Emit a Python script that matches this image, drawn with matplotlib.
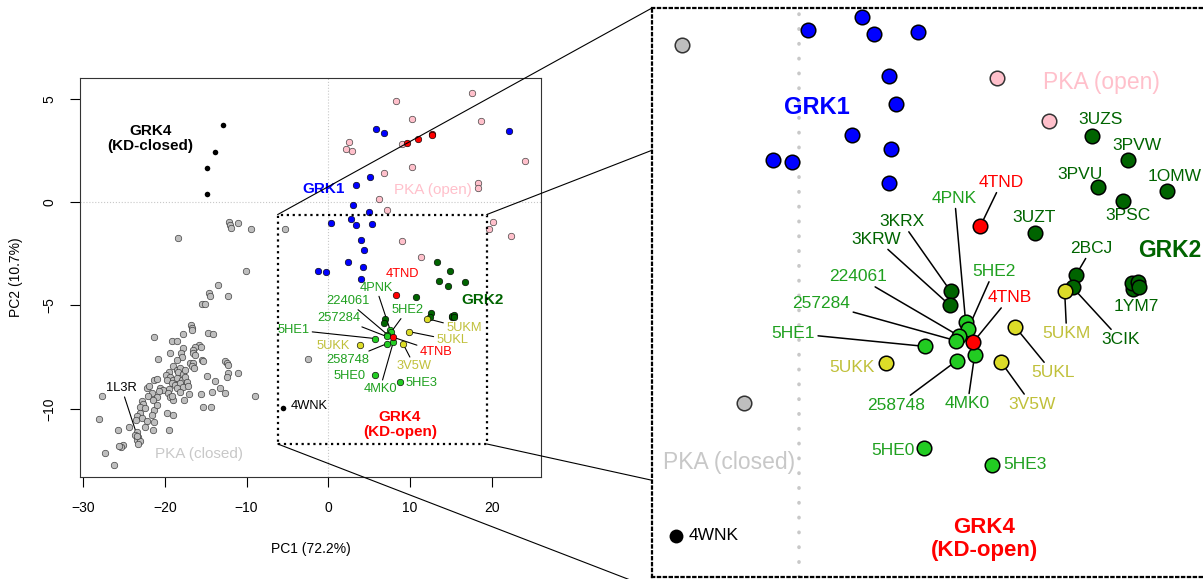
#!/usr/bin/env python3
"""PCA of kinase-domain structures: overview panel plus a zoomed inset of the GRK region."""

import matplotlib

matplotlib.use("Agg")
import matplotlib.pyplot as plt
from matplotlib.patches import Rectangle, ConnectionPatch

plt.rcParams["font.family"] = ["Liberation Sans", "DejaVu Sans"]

# ---- PCA scores (PC1, PC2) ----
pka_closed_x = [
    -18.36, -12.2, -12.04, -11.87, -11.06, -9.5, -5.30, -10.12, -13.55, -14.57,
    -14.49, -12.24, -15.5, -15.1, -16.85, -16.73, -16.65, -14.73, -14.08, -17.75,
    -21.38, -19.14, -18.57, -15.79, -15.59, -16.28, -16.53, -17.83, -19.4, -16.6,
    -16.36, -18.04, -17.91, -18.57, -20.81, -15.51, -15.38, -16.98, -16.53, -16.73,
    -16.4, -12.65, -12.45, -12.28, -18.98, -18.57, -18.16, -18.36, -17.83, -17.55,
    -19.55, -19.87, -19.38, -18.98, -18.57, -17.96, -19.79, -19.18, -18.77, -18.16,
    -17.55, -17.34, -18.57, -17.83, -17.14, -19.47, -12.24, -12.36, -11.06, -14.9,
    -13.87, -21.34, -21.02, -22.16, -21.96, -20.61, -20.28, -20.69, -21.63, -22.04,
    -21.02, -21.51, -19.67, -19.4, -18.98, -19.18, -18.16, -17.63, -17.1, -15.55,
    -14.2, -13.26, -12.65, -8.93, -27.71, -22.85, -22.65, -23.06, -22.45, -21.34,
    -21.0, -21.63, -15.3, -14.3, -19.8, -19.06, -23.1, -23.47, -22.85, -23.55,
    -22.24, -22.45, -21.3, -21.4, -28.04, -24.4, -23.47, -23.67, -23.27, -23.47,
    -23.06, -23.27, -25.79, -19.47, -25.1, -25.42, -25.59, -27.3, -26.2, -2.49,
]
pka_closed_y = [
    -1.74, -0.97, -1.10, -1.26, -0.99, -1.31, -1.29, -3.31, -4.00, -4.41,
    -4.53, -4.53, -4.91, -4.91, -5.94, -6.10, -6.18, -6.31, -6.37, -6.40,
    -6.53, -6.74, -6.74, -6.90, -6.99, -7.03, -7.15, -7.07, -7.31, -7.31,
    -7.39, -7.31, -7.50, -7.63, -7.60, -7.63, -7.71, -7.76, -7.79, -7.92,
    -8.03, -7.71, -7.79, -7.90, -7.95, -8.11, -8.03, -8.20, -8.31, -8.11,
    -8.20, -8.36, -8.44, -8.60, -8.52, -8.60, -8.60, -8.76, -8.84, -8.76,
    -8.44, -8.68, -9.00, -8.95, -8.92, -9.05, -8.27, -8.44, -8.26, -8.42,
    -8.63, -8.60, -8.57, -8.97, -8.89, -9.00, -9.08, -9.16, -9.24, -9.40,
    -9.44, -9.57, -9.24, -9.44, -9.57, -9.40, -9.21, -9.57, -9.28, -9.28,
    -9.18, -9.00, -9.24, -9.36, -9.40, -9.60, -9.76, -9.89, -9.97, -10.05,
    -9.82, -10.29, -9.92, -9.92, -10.21, -10.29, -10.21, -10.37, -10.45, -10.53,
    -10.61, -10.86, -10.66, -11.02, -10.48, -10.86, -11.10, -11.26, -11.34, -11.50,
    -11.58, -11.69, -11.03, -11.02, -11.74, -11.86, -11.82, -12.13, -12.71, -7.59,
]
pka_1l3r = (-23.4, -11.3)

pka_open_x = [17.6, 8.3, 10.3, 18.71, 2.5, 2.18, 2.91, 9.0, 24.05, 10.3, 6.79,
              18.34, 18.34, 6.22, 7.24, 20.22, 19.65, 22.34, 9.01, 11.35]
pka_open_y = [5.27, 4.92, 4.03, 3.93, 2.92, 2.58, 2.48, 2.80, 2.01, 1.69, 1.43,
              0.92, 0.71, 0.17, -0.37, -0.94, -1.31, -1.63, -1.88, -2.63]

grk1_x = [5.85, 6.87, 22.14, 5.08, 3.4, 3.08, 5.04, 0.39, 2.84, 3.39, 5.39,
          4.07, 4.39, 2.39, 4.20, -1.20, -0.30, 4.07]
grk1_y = [3.56, 3.35, 3.43, 1.22, 0.85, -0.12, -0.49, -1.03, -0.80, -1.10, -1.06,
          -1.84, -2.33, -2.88, -3.13, -3.32, -3.36, -3.73]

grk4_closed_x = [-12.85, -13.87, -14.9, -14.8]
grk4_closed_y = [3.75, 2.42, 1.67, 0.42]

red_top_x = [9.6, 11.0, 12.67, 12.75]
red_top_y = [2.85, 3.06, 3.30, 3.24]

grk4_open_names = ["4WNK"]
grk4_open_x = [-5.58]
grk4_open_y = [-9.94]

grk2_names = ["3UZS", "3PVW", "3PVU", "1OMW", "3PSC", "3UZT", "2BCJ", "3CIK",
              "3KRX", "3KRW", "1YM7", "", "", ""]
grk2_x = [13.30, 14.96, 13.58, 16.72, 14.72, 10.73, 12.57, 12.43, 6.89, 6.84,
          15.16, 15.11, 15.39, 15.43]
grk2_y = [-2.89, -3.32, -3.80, -3.86, -4.04, -4.61, -5.35, -5.56, -5.63, -5.87,
          -5.58, -5.49, -5.47, -5.56]

yellow_names = ["5UKM", "5UKL", "5UKK", "3V5W"]
yellow_x = [12.07, 9.83, 3.93, 9.19]
yellow_y = [-5.63, -6.26, -6.90, -6.88]

green_names = ["4PNK", "5HE2", "224061", "257284", "5HE1", "4MK0", "258748",
               "5HE0", "5HE3"]
green_x = [7.57, 7.67, 7.25, 7.14, 5.74, 7.98, 7.17, 5.70, 8.75]
green_y = [-6.17, -6.30, -6.41, -6.50, -6.60, -6.75, -6.85, -8.38, -8.68]

red_names = ["4TND", "4TNB"]
red_x = [8.24, 7.90]
red_y = [-4.48, -6.53]

# ---- colours ----
C_GREY, C_GREY_TXT = "#bebebe", "#c8c8c8"
C_PINK = "#ffc0cb"
C_BLUE = "#0000ff"
C_RED = "#ff0000"
C_DKGREEN = "#006400"
C_GREEN, C_GREEN_TXT = "#22cc22", "#1fa01f"
C_YELLOW, C_YELLOW_TXT = "#dcdc28", "#c0c03a"

# label placement (x, y, draw leader line) for each panel
left_labels = {
    "4TND": (9.12, -3.48, False), "4PNK": (5.85, -4.13, True),
    "224061": (2.38, -4.78, True), "257284": (1.36, -5.61, True),
    "5HE1": (-4.27, -6.18, True), "5HE2": (9.69, -5.21, True),
    "5UKM": (16.6, -6.1, True), "5UKL": (15.2, -6.69, True),
    "4TNB": (13.2, -7.23, True), "5UKK": (0.63, -6.95, False),
    "258748": (2.34, -7.63, True), "3V5W": (10.55, -7.92, True),
    "5HE0": (2.67, -8.39, False), "4MK0": (6.34, -9.03, True),
    "5HE3": (11.37, -8.73, False), "4WNK": (-2.31, -9.84, False),
}
right_labels = {
    "3UZS": (13.7, -2.60, False), "3PVW": (15.34, -3.06, False),
    "3PVU": (12.75, -3.57, False), "1OMW": (17.07, -3.60, False),
    "3PSC": (14.93, -4.29, False), "3UZT": (10.7, -4.33, False),
    "4TND": (9.2, -3.71, True), "4PNK": (7.07, -3.99, True),
    "3KRX": (4.66, -4.40, True), "3KRW": (3.52, -4.71, True),
    "224061": (2.66, -5.37, True), "257284": (1.02, -5.84, True),
    "5HE1": (-0.25, -6.37, True), "5UKK": (2.39, -6.97, False),
    "258748": (4.43, -7.64, True), "5HE0": (4.25, -8.44, False),
    "5HE2": (8.84, -5.28, True), "4TNB": (9.57, -5.74, True),
    "4MK0": (7.66, -7.61, True), "5UKL": (11.52, -7.06, True),
    "3V5W": (10.57, -7.62, True), "5UKM": (12.16, -6.37, True),
    "3CIK": (14.61, -6.48, True), "2BCJ": (13.3, -4.87, True),
    "1YM7": (15.34, -5.90, False), "5HE3": (10.25, -8.68, False),
    "4WNK": (-3.89, -9.93, False),
}

zoom_x = (-6.2, 19.4)
zoom_y = (-11.7, -0.6)

fig = plt.figure(figsize=(12.04, 5.79), dpi=100)
ax = fig.add_axes([80 / 1204, 102 / 579, 461 / 1204, 399 / 579])
axz = fig.add_axes([652 / 1204, 2 / 579, 574 / 1204, 569 / 579])


def draw_points(a, s, lw, plain_black_s):
    ec = "#333333"
    a.scatter(pka_closed_x, pka_closed_y, s=s, c=C_GREY, edgecolors=ec, linewidths=lw, zorder=3)
    a.scatter(*pka_1l3r, s=s, c=C_GREY, edgecolors=ec, linewidths=lw, zorder=3)
    a.scatter(pka_open_x, pka_open_y, s=s, c=C_PINK, edgecolors=ec, linewidths=lw, zorder=3)
    a.scatter(grk1_x, grk1_y, s=s, c=C_BLUE, edgecolors="black", linewidths=lw, zorder=3)
    a.scatter(grk4_closed_x, grk4_closed_y, s=plain_black_s, c="black", linewidths=0, zorder=3)
    a.scatter(red_top_x, red_top_y, s=s, c=C_RED, edgecolors="black", linewidths=lw, zorder=3)
    a.scatter(grk4_open_x, grk4_open_y, s=plain_black_s, c="black", linewidths=0, zorder=3)
    a.scatter(grk2_x, grk2_y, s=s, c=C_DKGREEN, edgecolors="black", linewidths=lw, zorder=3)
    a.scatter(yellow_x, yellow_y, s=s, c=C_YELLOW, edgecolors="black", linewidths=lw, zorder=3)
    a.scatter(green_x, green_y, s=s, c=C_GREEN, edgecolors="black", linewidths=lw, zorder=3)
    a.scatter(red_x, red_y, s=s, c=C_RED, edgecolors="black", linewidths=lw, zorder=3)


def draw_labels(a, placement, fs, lw):
    groups = [
        (grk4_open_names, grk4_open_x, grk4_open_y, "black"),
        (grk2_names, grk2_x, grk2_y, C_DKGREEN),
        (yellow_names, yellow_x, yellow_y, C_YELLOW_TXT),
        (green_names, green_x, green_y, C_GREEN_TXT),
        (red_names, red_x, red_y, C_RED),
    ]
    for names, xs, ys, col in groups:
        for name, x, y in zip(names, xs, ys):
            if name not in placement:
                continue
            lx, ly, line = placement[name]
            props = dict(arrowstyle="-", color="black", lw=lw, shrinkA=0, shrinkB=0) if line else None
            a.annotate(name, xy=(x, y), xytext=(lx, ly), ha="center", va="center",
                       color=col, fontsize=fs, arrowprops=props, zorder=2)


# ---- overview panel ----
draw_points(ax, 22, 0.45, 16)
draw_labels(ax, left_labels, 9.3, 0.8)
ax.annotate("1L3R", xy=pka_1l3r, xytext=(-25.3, -9.0), ha="center", va="center",
            fontsize=9.3, color="black",
            arrowprops=dict(arrowstyle="-", color="black", lw=0.8, shrinkA=0, shrinkB=0), zorder=2)

ax.axhline(0, color="#c8c8c8", lw=0.8, ls=":", zorder=1)
ax.axvline(0, color="#c8c8c8", lw=0.8, ls=":", zorder=1)
ax.add_patch(Rectangle((zoom_x[0], zoom_y[0]), zoom_x[1] - zoom_x[0], zoom_y[1] - zoom_y[0],
                       fill=False, ec="black", lw=1.6, ls=":", zorder=4))

ax.text(-21.8, 3.1, "GRK4\n(KD-closed)", ha="center", va="center", fontsize=11,
        fontweight="bold", linespacing=1.1)
ax.text(-0.6, 0.63, "GRK1", ha="center", va="center", fontsize=11, fontweight="bold", color=C_BLUE)
ax.text(12.87, 0.6, "PKA (open)", ha="center", va="center", fontsize=11, color=C_PINK)
ax.text(18.9, -4.73, "GRK2", ha="center", va="center", fontsize=11, fontweight="bold", color=C_DKGREEN)
ax.text(8.79, -10.76, "GRK4\n(KD-open)", ha="center", va="center", fontsize=11,
        fontweight="bold", color=C_RED, linespacing=1.1)
ax.text(-15.8, -12.18, "PKA (closed)", ha="center", va="center", fontsize=11, color=C_GREY_TXT)

ax.set_xlim(-30.4, 26.05)
ax.set_ylim(-13.3, 6.01)
ax.set_xticks([-30, -20, -10, 0, 10, 20])
ax.set_yticks([-10, -5, 0, 5])
for lbl in ax.get_yticklabels():
    lbl.set_rotation(90)
    lbl.set_va("center")
ax.tick_params(length=7, width=0.8, pad=10, labelsize=10, colors="black")
for sp in ax.spines.values():
    sp.set_color("#333333")
    sp.set_linewidth(0.8)
ax.set_xlabel("PC1 (72.2%)", fontsize=10, labelpad=20)
ax.set_ylabel("PC2 (10.7%)", fontsize=10, labelpad=14)

# ---- zoomed panel ----
draw_points(axz, 110, 1.1, 100)
draw_labels(axz, right_labels, 12.5, 1.1)
axz.axvline(0, color="#c8c8c8", lw=2.6, ls=(0, (0.1, 4.0)), dash_capstyle="round", zorder=1)
axz.text(0.8, -2.39, "GRK1", ha="center", va="center", fontsize=17, fontweight="bold", color=C_BLUE)
axz.text(13.75, -1.96, "PKA (open)", ha="center", va="center", fontsize=16.5, color=C_PINK)
axz.text(16.84, -4.91, "GRK2", ha="center", va="center", fontsize=16.5, fontweight="bold", color=C_DKGREEN)
axz.text(-3.16, -8.65, "PKA (closed)", ha="center", va="center", fontsize=16.5, color=C_GREY_TXT)
axz.text(8.43, -9.99, "GRK4\n(KD-open)", ha="center", va="center", fontsize=16, fontweight="bold",
         color=C_RED, linespacing=1.15)
axz.set_xlim(-6.68, 19.4)
axz.set_ylim(-10.66, -0.64)
axz.set_xticks([])
axz.set_yticks([])
for sp in axz.spines.values():
    sp.set_linestyle(":")
    sp.set_linewidth(1.6)

# projection lines from the inset box to the zoom panel
for (bx, by), (zx, zy) in [
    ((zoom_x[0], zoom_y[1]), (0, 1)),
    ((zoom_x[1], zoom_y[1]), (0, 0.75)),
    ((zoom_x[0], zoom_y[0]), (0, -0.02)),
    ((zoom_x[1], zoom_y[0]), (0, 0.17)),
]:
    fig.add_artist(ConnectionPatch(xyA=(bx, by), coordsA=ax.transData, xyB=(zx, zy),
                                   coordsB=axz.transAxes, color="black", lw=0.8))

fig.savefig("out.png", dpi=100)
